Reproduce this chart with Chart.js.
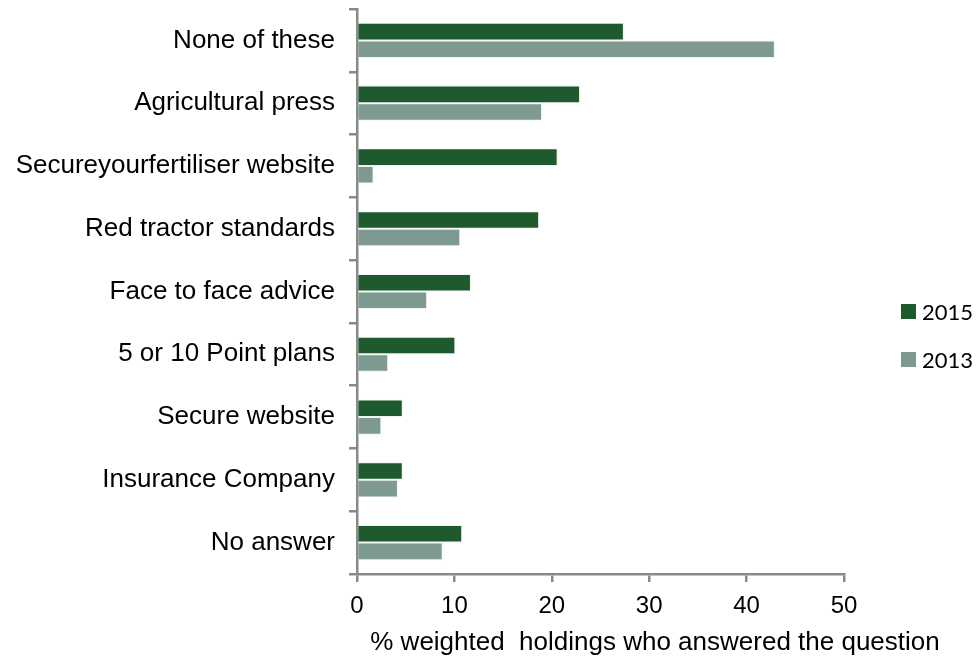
<!DOCTYPE html>
<html>
<head>
<meta charset="utf-8">
<script src="https://cdn.jsdelivr.net/npm/chart.js@4/dist/chart.umd.min.js"></script>
<style>
  html, body { margin: 0; padding: 0; background: #ffffff; }
  #wrap { width: 976px; height: 660px; position: relative; }
</style>
</head>
<body>
<div id="wrap"><canvas id="chart" width="976" height="660"></canvas></div>
<script>
// Sources of information on fertiliser security
const categories = [
  "None of these",
  "Agricultural press",
  "Secureyourfertiliser website",
  "Red tractor standards",
  "Face to face advice",
  "5 or 10 Point plans",
  "Secure website",
  "Insurance Company",
  "No answer"
];
const values2015 = [27.4, 22.9, 20.6, 18.7, 11.7, 10.1, 4.7, 4.7, 10.8];
const values2013 = [42.9, 19.0, 1.7, 10.6, 7.2, 3.2, 2.5, 4.2, 8.8];
const xTicks = [0, 10, 20, 30, 40, 50];
const axisTitle = "% weighted  holdings who answered the question";

const COL_2015 = "#1e5a2d";
const COL_2013 = "#7d9990";
const AXIS_COL = "#898989";
const LABEL_FONT = "'Liberation Sans', Arial, sans-serif";

// Legend drawn at the right of the plot
const sideLegend = {
  id: "sideLegend",
  afterDraw(chart) {
    const ctx = chart.ctx;
    ctx.save();
    ctx.font = "22px Lato, 'Open Sans', sans-serif";
    ctx.textBaseline = "middle";
    ctx.textAlign = "left";
    const x = 901, y0 = 311.5, gap = 48;
    chart.data.datasets.forEach((ds, i) => {
      const y = y0 + i * gap;
      ctx.fillStyle = ds.backgroundColor;
      ctx.fillRect(x, y - 7.5, 15, 15);
      ctx.fillStyle = "#000000";
      ctx.fillText(ds.label, x + 21, y + 1);
    });
    ctx.restore();
  }
};

// Axis title placed under the tick labels
const axisTitlePlugin = {
  id: "axisTitlePlugin",
  afterDraw(chart) {
    const ctx = chart.ctx;
    ctx.save();
    ctx.font = "26px " + LABEL_FONT;
    ctx.fillStyle = "#000000";
    ctx.textAlign = "center";
    ctx.textBaseline = "middle";
    ctx.fillText(axisTitle, 655, 643);
    ctx.restore();
  }
};

new Chart(document.getElementById("chart"), {
  type: "bar",
  data: {
    labels: categories,
    datasets: [
      { label: "2015", data: values2015, backgroundColor: COL_2015,
        borderColor: "rgba(230,240,235,0.7)", borderWidth: 1,
        barPercentage: 1.0, categoryPercentage: 0.56 },
      { label: "2013", data: values2013, backgroundColor: COL_2013,
        borderColor: "rgba(230,240,235,0.7)", borderWidth: 1,
        barPercentage: 1.0, categoryPercentage: 0.56 }
    ]
  },
  options: {
    indexAxis: "y",
    responsive: false,
    animation: false,
    layout: { padding: { top: 9, right: 132, left: 0, bottom: 0 } },
    plugins: {
      legend: { display: false },
      tooltip: { enabled: false }
    },
    scales: {
      x: {
        min: 0, max: 50,
        afterBuildTicks(scale) { scale.ticks = xTicks.map(v => ({ value: v })); },
        afterFit(scale) { scale.height = 86; scale.paddingLeft = 0; scale.paddingRight = 0; },
        border: { display: true, color: AXIS_COL, width: 2.5 },
        grid: { display: true, drawOnChartArea: false, drawTicks: true,
                tickLength: 8, color: AXIS_COL, lineWidth: 2.5 },
        ticks: { color: "#000000", padding: 10, font: { family: LABEL_FONT, size: 24 } }
      },
      y: {
        afterFit(scale) { scale.width = 357; scale.paddingTop = 0; scale.paddingBottom = 0; },
        border: { display: true, color: AXIS_COL, width: 2.5 },
        grid: { display: true, drawOnChartArea: false, drawTicks: true,
                tickLength: 8, color: AXIS_COL, lineWidth: 2.5, offset: true },
        ticks: { color: "#000000", padding: 14, font: { family: LABEL_FONT, size: 26 } }
      }
    }
  },
  plugins: [sideLegend, axisTitlePlugin]
});
</script>
</body>
</html>
